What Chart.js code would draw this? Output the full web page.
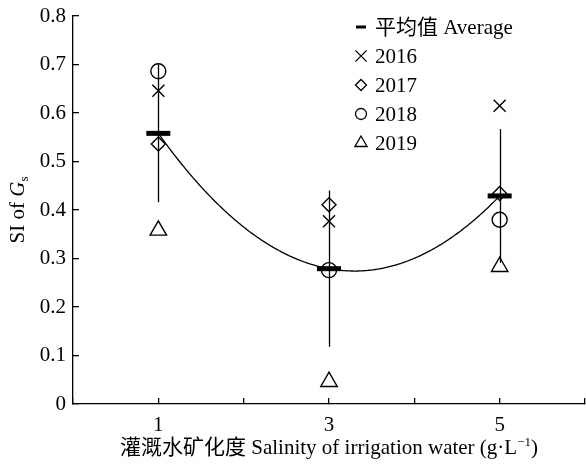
<!DOCTYPE html>
<html>
<head>
<meta charset="utf-8">
<script src="https://cdn.jsdelivr.net/npm/chart.js@4.4.1/dist/chart.umd.min.js"></script>
<style>
  html, body { margin: 0; padding: 0; background: #fff; }
  #wrap { width: 586px; height: 464px; }
</style>
</head>
<body>
<div id="wrap"><canvas id="c" width="586" height="464"></canvas></div>
<script>
// Irrigation water salinity (g/L) and SI of Gs per year
const salinity = [1, 3, 5];
const si2016 = [0.646, 0.377, 0.615];
const si2017 = [0.536, 0.411, 0.434];
const si2018 = [0.686, 0.276, 0.380];
const si2019 = [0.358, 0.046, 0.283];
// Mean of the four years and its standard deviation
const siMean = [0.558, 0.279, 0.429];
const siSD = [0.142, 0.161, 0.138];
// Axis ticks
const xTicks = [0, 1, 2, 3, 4, 5, 6];
const xTickLabels = ['', '1', '', '3', '', '5', ''];
const yTicks = [0, 0.1, 0.2, 0.3, 0.4, 0.5, 0.6, 0.7, 0.8];
const yTickLabels = ['0', '0.1', '0.2', '0.3', '0.4', '0.5', '0.6', '0.7', '0.8'];

const SERIF = "'Liberation Serif', 'Times New Roman', 'Noto Sans CJK SC', serif";
const FONT_SIZE = 21;
const INK = '#000';

const pts = arr => salinity.map((x, i) => ({ x, y: arr[i] }));

// Quadratic trend through the yearly means (Lagrange form)
const fitAt = t => salinity.reduce((acc, xi, i) => {
  let L = 1;
  salinity.forEach((xj, j) => { if (j !== i) L *= (t - xj) / (xi - xj); });
  return acc + siMean[i] * L;
}, 0);

const series = [
  { label: '平均值 Average', data: pts(siMean), pointStyle: 'line', pointRadius: 12, borderWidth: 5,
    legend: { radius: 5, borderWidth: 3 } },
  { label: '2016', data: pts(si2016), pointStyle: 'crossRot', pointRadius: 8.5, borderWidth: 1.4,
    legend: { radius: 8, borderWidth: 1.3 } },
  { label: '2017', data: pts(si2017), pointStyle: 'rectRot', pointRadius: 7, borderWidth: 1.4,
    legend: { radius: 5.5, borderWidth: 1.3 } },
  { label: '2018', data: pts(si2018), pointStyle: 'circle', pointRadius: 7.5, borderWidth: 1.4,
    legend: { radius: 5.5, borderWidth: 1.3 } },
  { label: '2019', data: pts(si2019), pointStyle: 'triangle', pointRadius: 9.5, borderWidth: 1.4,
    legend: { radius: 7, borderWidth: 1.3 } }
];

// Error bars and fitted curve, drawn beneath the markers
const underlay = {
  id: 'underlay',
  beforeDatasetsDraw(chart) {
    const { ctx, scales: { x, y } } = chart;
    ctx.save();
    ctx.strokeStyle = INK;
    ctx.lineWidth = 1.3;
    salinity.forEach((s, i) => {
      const px = Math.round(x.getPixelForValue(s)) + 0.5;
      ctx.beginPath();
      ctx.moveTo(px, y.getPixelForValue(siMean[i] - siSD[i]));
      ctx.lineTo(px, y.getPixelForValue(siMean[i] + siSD[i]));
      ctx.stroke();
    });
    const x0 = x.getPixelForValue(salinity[0]);
    const x1 = x.getPixelForValue(salinity[salinity.length - 1]);
    ctx.beginPath();
    for (let px = x0; px <= x1 + 0.01; px += 1) {
      const py = y.getPixelForValue(fitAt(x.getValueForPixel(px)));
      if (px === x0) ctx.moveTo(px, py); else ctx.lineTo(px, py);
    }
    ctx.stroke();
    ctx.restore();
  }
};

// Legend inside the plot, axis titles with italic symbol and sub/superscripts
const decorations = {
  id: 'decorations',
  afterDraw(chart) {
    const { ctx, chartArea } = chart;
    ctx.save();
    ctx.strokeStyle = INK;

    // legend
    const mx = 361, tx = 375, y0 = 27, dy = 29;
    ctx.textAlign = 'left';
    ctx.textBaseline = 'middle';
    series.forEach((s, i) => {
      const yy = y0 + i * dy;
      ctx.lineWidth = s.legend.borderWidth;
      ctx.fillStyle = 'rgba(0,0,0,0)';
      Chart.helpers.drawPoint(ctx, {
        pointStyle: s.pointStyle, radius: s.legend.radius, rotation: 0,
        borderWidth: s.legend.borderWidth
      }, mx, yy);
      ctx.fillStyle = INK;
      ctx.font = `${FONT_SIZE}px ${SERIF}`;
      ctx.fillText(s.label, tx, yy + 1);
    });

    // x title: 灌溉水矿化度 Salinity of irrigation water (g·L⁻¹)
    ctx.fillStyle = INK;
    const cx = (chartArea.left + chartArea.right) / 2;
    const by = 454;
    const main = '灌溉水矿化度 Salinity of irrigation water (g·L';
    const sup = '−1';
    const close = ')';
    const f = `${FONT_SIZE}px ${SERIF}`;
    const fs = `${Math.round(FONT_SIZE * 0.62)}px ${SERIF}`;
    ctx.textBaseline = 'alphabetic';
    ctx.font = f; const wMain = ctx.measureText(main).width; const wClose = ctx.measureText(close).width;
    ctx.font = fs; const wSup = ctx.measureText(sup).width;
    let sx = cx - (wMain + wSup + wClose) / 2;
    ctx.font = f; ctx.fillText(main, sx, by); sx += wMain;
    ctx.font = fs; ctx.fillText(sup, sx, by - 8); sx += wSup;
    ctx.font = f; ctx.fillText(close, sx, by);

    // y title: SI of Gs (rotated)
    const cy = (chartArea.top + chartArea.bottom) / 2;
    ctx.translate(24, cy);
    ctx.rotate(-Math.PI / 2);
    const partA = 'SI of ', partG = 'G', partS = 's';
    const fi = `italic ${FONT_SIZE}px ${SERIF}`;
    const fsub = `${Math.round(FONT_SIZE * 0.62)}px ${SERIF}`;
    ctx.font = f; const wA = ctx.measureText(partA).width;
    ctx.font = fi; const wG = ctx.measureText(partG).width;
    ctx.font = fsub; const wS = ctx.measureText(partS).width;
    let rx = -(wA + wG + wS) / 2;
    ctx.font = f; ctx.fillText(partA, rx, 0); rx += wA;
    ctx.font = fi; ctx.fillText(partG, rx, 0); rx += wG;
    ctx.font = fsub; ctx.fillText(partS, rx, 4);
    ctx.restore();
  }
};

new Chart(document.getElementById('c'), {
  type: 'scatter',
  data: {
    datasets: series.map(s => ({
      label: s.label,
      data: s.data,
      pointStyle: s.pointStyle,
      pointRadius: s.pointRadius,
      pointHoverRadius: s.pointRadius,
      borderWidth: s.borderWidth,
      pointBorderWidth: s.borderWidth,
      borderColor: INK,
      pointBorderColor: INK,
      backgroundColor: 'rgba(0,0,0,0)',
      pointBackgroundColor: 'rgba(0,0,0,0)',
      showLine: false
    }))
  },
  options: {
    responsive: false,
    devicePixelRatio: 1,
    animation: false,
    events: [],
    layout: { autoPadding: false, padding: { top: 16, right: 1, left: 0, bottom: 0 } },
    plugins: { legend: { display: false }, tooltip: { enabled: false } },
    scales: {
      x: {
        type: 'linear',
        min: 0, max: 6,
        afterBuildTicks: sc => { sc.ticks = xTicks.map(v => ({ value: v })); },
        afterFit: sc => { sc.height = 60; sc.paddingLeft = 0; sc.paddingRight = 0; },
        ticks: {
          autoSkip: false,
          maxRotation: 0,
          padding: 15,
          color: INK,
          font: { family: SERIF, size: FONT_SIZE },
          callback: (v) => xTickLabels[xTicks.indexOf(v)] ?? ''
        },
        grid: { display: true, drawOnChartArea: false, drawTicks: true, tickLength: -6, color: INK, lineWidth: 1.3 },
        border: { display: true, color: INK, width: 1.3 }
      },
      y: {
        type: 'linear',
        min: 0, max: 0.8,
        afterBuildTicks: sc => { sc.ticks = yTicks.map(v => ({ value: v })); },
        afterFit: sc => { sc.width = 73; sc.paddingTop = 0; sc.paddingBottom = 0; },
        ticks: {
          autoSkip: false,
          padding: 13,
          color: INK,
          font: { family: SERIF, size: FONT_SIZE },
          callback: (v) => {
            const k = yTicks.findIndex(t => Math.abs(t - v) < 1e-9);
            return k >= 0 ? yTickLabels[k] : '';
          }
        },
        grid: { display: true, drawOnChartArea: false, drawTicks: true, tickLength: -6, color: INK, lineWidth: 1.3 },
        border: { display: true, color: INK, width: 1.3 }
      }
    }
  },
  plugins: [underlay, decorations]
});
</script>
</body>
</html>
